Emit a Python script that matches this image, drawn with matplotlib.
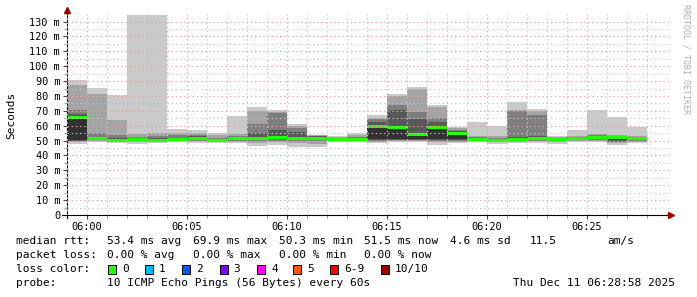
import numpy as np
import matplotlib.pyplot as plt
from matplotlib.patches import Rectangle

plt.rcParams['font.family'] = ['DejaVu Sans Mono']
plt.rcParams['lines.scale_dashes'] = False

# 10 pings per minute (ms, sorted), one row per minute starting at 05:59
pings = [
    [47.7, 48.8, 49.5, 50.0, 50.4, 66.5, 68.0, 70.6, 87.4, 90.7],
    [49.3, 50.0, 50.3, 50.6, 51.0, 51.8, 52.2, 54.9, 81.3, 85.6],
    [48.2, 49.0, 49.5, 50.0, 50.2, 50.6, 51.5, 53.5, 63.8, 80.6],
    [48.0, 49.0, 49.6, 50.0, 50.3, 51.2, 51.8, 52.6, 54.4, 134.4],
    [48.2, 48.8, 49.3, 49.8, 50.0, 50.6, 51.5, 53.0, 54.9, 134.4],
    [49.3, 49.8, 50.2, 50.5, 50.8, 51.3, 52.0, 53.5, 54.9, 57.6],
    [48.2, 49.5, 50.0, 50.5, 51.0, 52.2, 52.8, 53.8, 54.9, 57.4],
    [48.6, 49.2, 49.6, 50.0, 50.3, 50.7, 51.2, 52.0, 53.8, 55.3],
    [48.2, 49.0, 49.8, 50.3, 51.0, 51.8, 52.5, 53.2, 54.2, 66.7],
    [46.6, 48.5, 49.5, 50.2, 50.8, 52.0, 55.0, 61.0, 69.6, 72.7],
    [47.0, 49.0, 50.0, 51.0, 51.8, 53.0, 57.1, 68.3, 69.4, 70.6],
    [45.9, 48.5, 49.5, 50.3, 51.0, 52.0, 55.6, 58.7, 59.8, 61.0],
    [45.9, 48.0, 49.5, 50.3, 51.0, 52.3, 52.8, 53.2, 53.5, 53.8],
    [49.3, 49.8, 50.2, 50.4, 50.6, 51.0, 51.5, 52.0, 52.6, 53.1],
    [49.3, 49.8, 50.2, 50.5, 50.8, 51.2, 51.8, 52.5, 53.8, 55.3],
    [48.6, 49.3, 49.8, 50.4, 50.8, 59.5, 62.7, 64.3, 65.4, 67.2],
    [49.3, 49.8, 50.2, 50.6, 51.0, 59.5, 70.6, 73.9, 80.0, 81.1],
    [49.3, 49.8, 50.2, 50.6, 51.0, 54.7, 64.4, 69.2, 84.7, 85.8],
    [47.0, 49.0, 49.5, 50.3, 51.0, 59.3, 62.7, 65.0, 72.8, 73.9],
    [48.5, 49.3, 49.8, 50.3, 51.0, 55.5, 56.5, 57.1, 58.5, 59.2],
    [49.3, 49.6, 50.0, 50.3, 50.6, 51.2, 52.0, 52.6, 53.1, 62.7],
    [47.5, 48.8, 49.4, 49.8, 50.1, 50.5, 51.0, 52.0, 53.0, 60.0],
    [48.2, 49.2, 49.8, 50.3, 50.8, 51.6, 52.5, 69.9, 70.5, 76.2],
    [48.2, 49.5, 50.0, 50.6, 51.2, 52.3, 53.0, 66.9, 70.0, 71.5],
    [47.7, 48.8, 49.5, 50.0, 50.5, 51.2, 51.6, 52.0, 52.6, 53.1],
    [49.3, 49.8, 50.2, 50.6, 51.0, 51.8, 52.3, 52.7, 53.1, 57.1],
    [49.3, 50.0, 50.5, 51.0, 51.7, 52.8, 53.3, 53.8, 54.4, 70.6],
    [47.0, 48.2, 49.0, 49.8, 50.5, 52.3, 52.8, 53.3, 53.8, 66.0],
    [48.6, 49.3, 49.8, 50.3, 50.8, 51.6, 52.2, 52.6, 53.0, 59.4],
]
median = [66.0, 51.5, 50.4, 51.0, 50.2, 51.0, 51.9, 50.5, 51.5, 51.6,
          52.5, 51.5, 52.0, 50.9, 51.0, 59.5, 59.0, 54.5, 59.0, 55.4,
          51.0, 50.3, 51.4, 52.0, 51.0, 51.5, 52.7, 52.3, 51.5]

tick_labels = ['06:00', '06:05', '06:10', '06:15', '06:20', '06:25']
smoke_grays = ['#cacaca', '#a4a4a4', '#7e7e7e', '#585858', '#323232']

loss_labels = ['0', '1', '2', '3', '4', '5', '6-9', '10/10']
loss_colors = ['#26ff00', '#00b8ff', '#0059ff', '#7e00ff', '#ff00ff',
               '#ff5500', '#ff0000', '#a10000']

W, H = 697, 297
fig = plt.figure(figsize=(W / 100, H / 100), dpi=100)
fig.patch.set_facecolor('white')

def fx(px):
    return px / W

def fy(py):
    return 1 - py / H

ax = fig.add_axes([fx(67), fy(215), fx(670) - fx(67), fy(14) - fy(215)])
ax.set_xlim(0, 30.15)
ax.set_ylim(0, 135.1)

# smoke bands (outer = lightest)
x = np.arange(len(pings))
p = np.array(pings)
for k in range(5):
    ax.bar(x, p[:, 9 - k] - p[:, k], bottom=p[:, k], width=1.0, align='edge',
           color=smoke_grays[k], linewidth=0, zorder=1)

# median line
for i, m in enumerate(median):
    ax.plot([i, i + 1], [m, m], color='#20ff00', linewidth=2.2,
            solid_capstyle='butt', zorder=2)

# grid
ax.set_axisbelow(False)
ax.set_yticks(np.arange(0, 131, 10))
ax.set_yticks(np.arange(5, 131, 10), minor=True)
ax.set_yticklabels(['0'] + [f'{v} m' for v in range(10, 131, 10)])
ax.set_xticks(np.arange(1, 30, 5))
ax.set_xticks(np.arange(0, 30, 1), minor=True)
ax.set_xticklabels(tick_labels)
ax.grid(True, which='major', color='#f0a0a0', linewidth=0.8,
        linestyle=(0, (1, 2)))
ax.grid(True, which='minor', color='#c8c8c8', linewidth=0.8,
        linestyle=(0, (1, 2)))
ax.tick_params(which='both', labelsize=7.4, colors='#000000')
ax.tick_params(axis='y', which='major', length=3, pad=2, color='#444444')
ax.tick_params(axis='y', which='minor', length=2, color='#888888')
ax.tick_params(axis='x', which='major', length=3, pad=2, color='#444444')
ax.tick_params(axis='x', which='minor', length=2, color='#888888')

for s in ['top', 'right']:
    ax.spines[s].set_visible(False)
ax.spines['left'].set_linewidth(0.8)
ax.spines['bottom'].set_visible(False)

# x axis line extending a bit left, with arrows
fig.add_artist(plt.Line2D([fx(62), fx(671)], [fy(215), fy(215)],
                          color='black', linewidth=0.8))
fig.add_artist(plt.Line2D([fx(67), fx(67)], [fy(215), fy(218)],
                          color='black', linewidth=0.8))
fig.add_artist(plt.Line2D([fx(671)], [fy(215)], marker='>', markersize=4,
                          color='#a00000', linestyle='none'))
fig.add_artist(plt.Line2D([fx(67)], [fy(10)], marker='^', markersize=4,
                          color='#a00000', linestyle='none'))
fig.add_artist(plt.Line2D([fx(67), fx(67)], [fy(14), fy(10)],
                          color='black', linewidth=0.8))

fig.text(fx(11), fy(115), 'Seconds', rotation=90, ha='center', va='center',
         fontsize=8)
fig.text(fx(686), fy(4), 'RRDTOOL / TOBI OETIKER', rotation=270,
         ha='center', va='top', fontsize=6, color='#b0b0b0')

# legend rows
fs = 8.0
rows_y = [241, 255, 269, 283]
fig.text(fx(16), fy(rows_y[0]), 'median rtt:', fontsize=fs, va='center')
for xp, t in zip([107, 193, 279, 364, 450, 530, 607],
                 ['53.4 ms avg', '69.9 ms max', '50.3 ms min', '51.5 ms now',
                  '4.6 ms sd', '11.5', 'am/s']):
    fig.text(fx(xp), fy(rows_y[0]), t, fontsize=fs, va='center')

fig.text(fx(16), fy(rows_y[1]), 'packet loss:', fontsize=fs, va='center')
for xp, t in zip([107, 193, 279, 364],
                 ['0.00 % avg', '0.00 % max', '0.00 % min', '0.00 % now']):
    fig.text(fx(xp), fy(rows_y[1]), t, fontsize=fs, va='center')

fig.text(fx(16), fy(rows_y[2]), 'loss color:', fontsize=fs, va='center')
box_x = [108, 145, 182, 219.5, 257, 293, 330, 381]
for bx, lab, col in zip(box_x, loss_labels, loss_colors):
    fig.add_artist(Rectangle((fx(bx), fy(rows_y[2] + 4.5)), 8 / W, 9 / H,
                             transform=fig.transFigure, facecolor=col,
                             edgecolor='black', linewidth=0.7))
    fig.text(fx(bx + 14), fy(rows_y[2]), lab, fontsize=fs, va='center')

fig.text(fx(16), fy(rows_y[3]), 'probe:', fontsize=fs, va='center')
fig.text(fx(107), fy(rows_y[3]), '10 ICMP Echo Pings (56 Bytes) every 60s',
         fontsize=fs, va='center')
fig.text(fx(513), fy(rows_y[3]), 'Thu Dec 11 06:28:58 2025', fontsize=fs,
         va='center', ha='left')

fig.savefig('out.png', dpi=100)
